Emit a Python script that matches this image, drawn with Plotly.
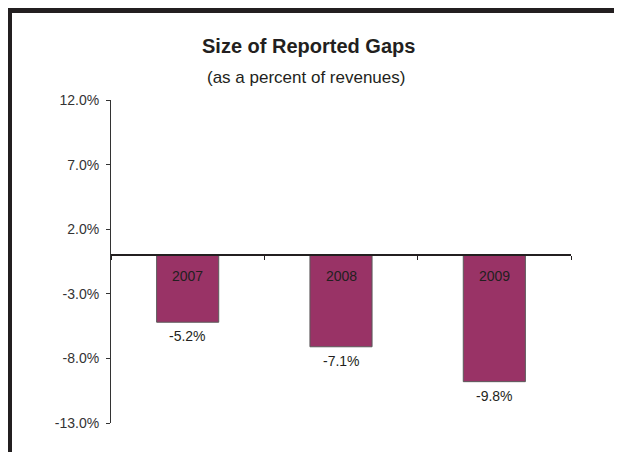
import plotly.graph_objects as go

# ---- data ----
years = ["2007", "2008", "2009"]
gaps = [-5.2, -7.1, -9.8]
y_ticks = [-13.0, -8.0, -3.0, 2.0, 7.0, 12.0]
y_tick_labels = [f"{v:.1f}%" for v in y_ticks]
title_text = "Size of Reported Gaps"
subtitle_text = "(as a percent of revenues)"

# page is offset by the default 8px body margin
OFF = 8
PAGE_W, PAGE_H = 622, 452
W, H = PAGE_W - OFF, PAGE_H - OFF
# plot area in page pixels
PX0, PX1, PY0, PY1 = 111, 571, 100, 423
L, R, T, B = PX0 - OFF, W - (PX1 - OFF), PY0 - OFF, H - (PY1 - OFF)
pw, ph = PX1 - PX0, PY1 - PY0
ymin, ymax = y_ticks[0], y_ticks[-1]

def px_x(x):  # page px -> paper fraction
    return (x - PX0) / pw

def px_y(y):
    return (PY1 - y) / ph

FONT = "Liberation Sans, Arial, sans-serif"
TXT = "#231f20"

fig = go.Figure()
fig.add_trace(go.Bar(
    x=years, y=gaps, width=0.405,
    marker=dict(color="#993366", line=dict(color="#5a5a5a", width=1)),
    hoverinfo="skip",
))

annotations = []
for i, (yr, g) in enumerate(zip(years, gaps)):
    annotations.append(dict(x=i, y=0, xref="x", yref="y", text=yr, showarrow=False,
                            xanchor="center", yanchor="middle", yshift=-21,
                            font=dict(family=FONT, size=14, color=TXT)))
    annotations.append(dict(x=i, y=g, xref="x", yref="y", text=f"{g:.1f}%", showarrow=False,
                            xanchor="center", yanchor="middle", yshift=-14,
                            font=dict(family=FONT, size=14, color=TXT)))

annotations.append(dict(x=px_x(308), y=px_y(46), xref="paper", yref="paper", text=f"<b>{title_text}</b>",
                        showarrow=False, xanchor="center", yanchor="middle",
                        font=dict(family=FONT, size=20, color=TXT)))
annotations.append(dict(x=px_x(306), y=px_y(77), xref="paper", yref="paper", text=subtitle_text,
                        showarrow=False, xanchor="center", yanchor="middle",
                        font=dict(family=FONT, size=17, color=TXT)))

shapes = [
    dict(type="line", xref="paper", yref="paper", x0=px_x(9.5), x1=px_x(9.5), y0=px_y(8), y1=px_y(PAGE_H + 5),
         line=dict(color=TXT, width=5)),
    dict(type="line", xref="paper", yref="paper", x0=px_x(7), x1=px_x(PAGE_W + 5), y0=px_y(10.5), y1=px_y(10.5),
         line=dict(color=TXT, width=5)),
]

fig.update_layout(
    width=W, height=H,
    margin=dict(l=L, r=R, t=T, b=B, pad=0),
    paper_bgcolor="white", plot_bgcolor="white",
    showlegend=False,
    font=dict(family=FONT, size=13, color=TXT),
    annotations=annotations,
    shapes=shapes,
    xaxis=dict(
        type="category", range=[-0.5, len(years) - 0.5],
        anchor="free", position=(0 - ymin) / (ymax - ymin),
        showline=True, linecolor=TXT, linewidth=2,
        ticks="outside", tickson="boundaries", ticklen=4, tickcolor=TXT, tickwidth=1,
        showticklabels=False, showgrid=False, zeroline=False,
    ),
    yaxis=dict(
        range=[ymin, ymax], tickvals=y_ticks, ticktext=y_tick_labels,
        showline=True, linecolor="#333333", linewidth=1,
        ticks="outside", ticklen=4, tickcolor="#333333",
        ticklabelstandoff=4,
        showgrid=False, zeroline=False,
        tickfont=dict(family=FONT, size=14, color="#333333"),
    ),
)

fig.write_html("out.html")
